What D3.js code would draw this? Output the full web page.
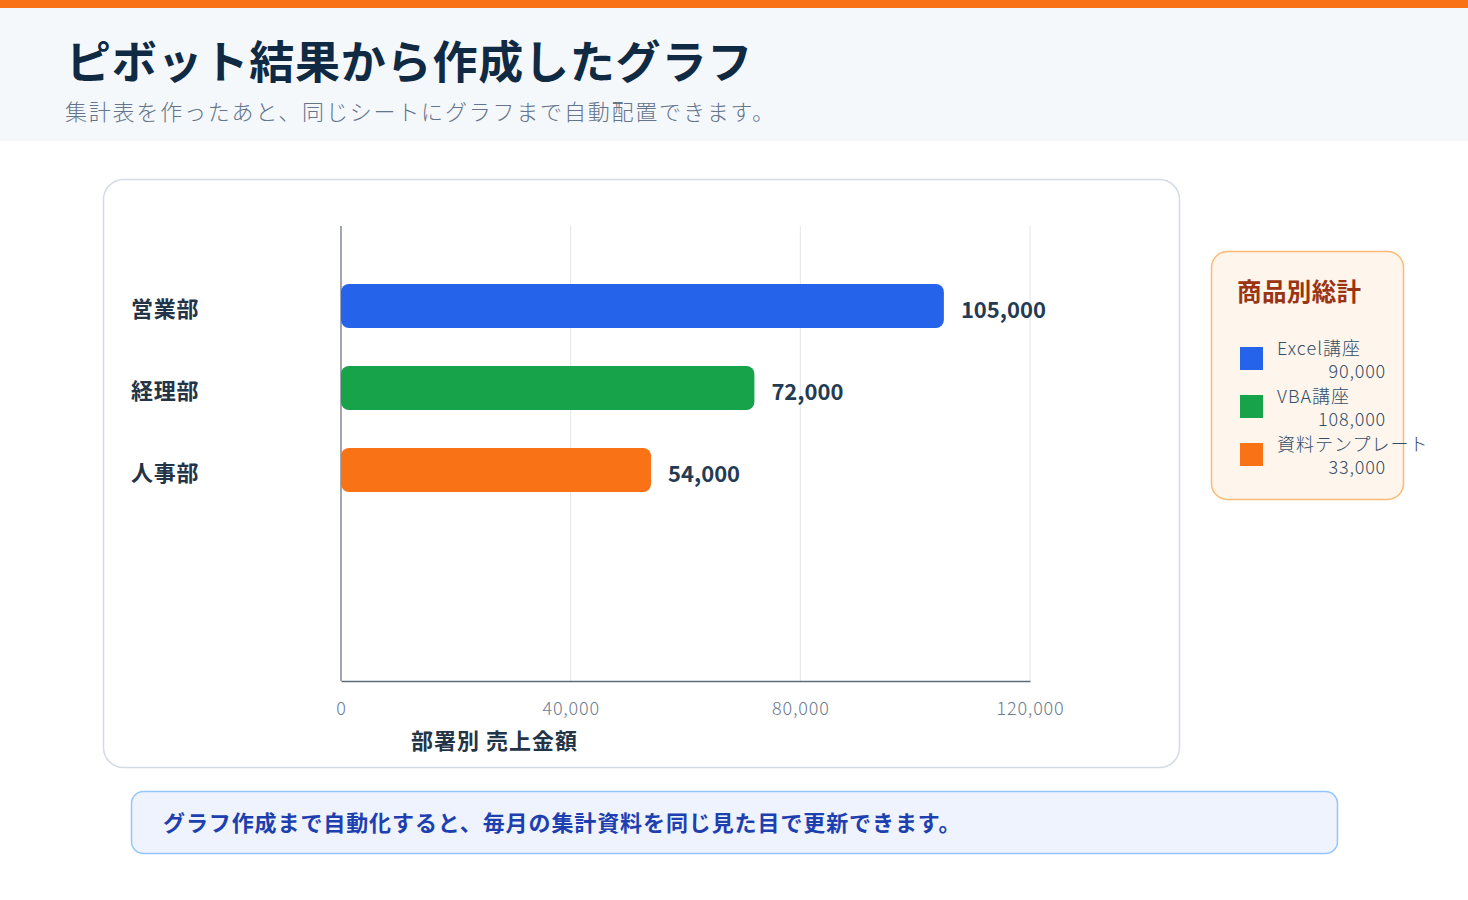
<!DOCTYPE html>
<html><head><meta charset="utf-8">
<script src="https://cdn.jsdelivr.net/npm/d3@7"></script>
<style>
html,body{margin:0;padding:0;background:#fff;}
svg{display:block;font-family:"Noto Sans CJK JP","Noto Sans",sans-serif;}
</style></head>
<body>
<script>
const titleText = "ピボット結果から作成したグラフ";
const subtitleText = "集計表を作ったあと、同じシートにグラフまで自動配置できます。";
const departments = ["営業部", "経理部", "人事部"];
const deptValues = [105000, 72000, 54000];
const barColors = ["#2563eb", "#16a34a", "#f97316"];
const xTicks = [0, 40000, 80000, 120000];
const xAxisTitle = "部署別 売上金額";
const legendTitle = "商品別総計";
const products = ["Excel講座", "VBA講座", "資料テンプレート"];
const productTotals = [90000, 108000, 33000];
const footerText = "グラフ作成まで自動化すると、毎月の集計資料を同じ見た目で更新できます。";

const W = 1468, H = 900;
const svg = d3.select("body").append("svg").attr("width", W).attr("height", H);
const fmt = d3.format(",");

// header
svg.append("rect").attr("x",0).attr("y",0).attr("width",W).attr("height",141).attr("fill","#f5f8fb");
svg.append("rect").attr("x",0).attr("y",0).attr("width",W).attr("height",8).attr("fill","#f97316");
svg.append("text").attr("x",66).attr("y",59).attr("dominant-baseline","central")
  .attr("font-size",45).attr("font-weight",700).attr("fill","#102a43").attr("letter-spacing",0.8).text(titleText);
svg.append("text").attr("x",65).attr("y",110).attr("dominant-baseline","central")
  .attr("font-size",22).attr("font-weight",300).attr("fill","#64748b").attr("letter-spacing",1.8).text(subtitleText);

// chart card
svg.append("rect").attr("x",103.5).attr("y",179.5).attr("width",1076).attr("height",588)
  .attr("rx",20).attr("fill","#fff").attr("stroke","#d5dbe5").attr("stroke-width",1.5);

const x = d3.scaleLinear().domain([0,120000]).range([341,1030]);
const pIn = 38/82;
const y = d3.scaleBand().domain(departments).range([265,511]).paddingInner(pIn).paddingOuter(pIn/2);

// grid
svg.append("g").selectAll("line").data(xTicks.slice(1)).join("line")
  .attr("x1",d=>x(d)).attr("x2",d=>x(d)).attr("y1",226).attr("y2",681)
  .attr("stroke","#e2e5ea").attr("stroke-width",1);

// axes
const xAxis = svg.append("g").attr("transform","translate(0,681)")
  .call(d3.axisBottom(x).tickValues(xTicks).tickFormat(fmt).tickSize(0).tickPadding(21));
xAxis.select(".domain").attr("stroke","#5f6b7a").attr("stroke-width",1.5);
xAxis.selectAll("text").attr("font-size",18).attr("font-weight",300).attr("fill","#6b7a8f")
  .attr("font-family","Noto Sans CJK JP").attr("letter-spacing",0.8);
svg.append("line").attr("x1",341).attr("x2",341).attr("y1",226).attr("y2",681)
  .attr("stroke","#5f6b7a").attr("stroke-width",1.2);

// bars
const data = departments.map((d,i)=>({d, v:deptValues[i], c:barColors[i]}));
svg.append("g").selectAll("rect").data(data).join("rect")
  .attr("x",x(0)).attr("y",d=>y(d.d)).attr("width",d=>x(d.v)-x(0)).attr("height",y.bandwidth())
  .attr("rx",8).attr("fill",d=>d.c);
svg.append("g").selectAll("text").data(data).join("text")
  .attr("x",d=>x(d.v)+17).attr("y",d=>y(d.d)+y.bandwidth()/2+2).attr("dominant-baseline","central")
  .attr("font-size",22).attr("font-weight",700).attr("fill","#243b53").text(d=>fmt(d.v));
svg.append("g").selectAll("text").data(data).join("text")
  .attr("x",131).attr("y",d=>y(d.d)+y.bandwidth()/2+1).attr("dominant-baseline","central")
  .attr("font-size",22).attr("font-weight",700).attr("fill","#243447").attr("letter-spacing",0.7).text(d=>d.d);

svg.append("text").attr("x",411).attr("y",739).attr("dominant-baseline","central")
  .attr("font-size",22).attr("font-weight",700).attr("fill","#243447").attr("letter-spacing",1).text(xAxisTitle);

// legend
svg.append("rect").attr("x",1211.5).attr("y",251.5).attr("width",192).attr("height",248)
  .attr("rx",16).attr("fill","#fef5ec").attr("stroke","#fdba74").attr("stroke-width",1.5);
svg.append("text").attr("x",1237).attr("y",290).attr("dominant-baseline","central")
  .attr("font-size",24.5).attr("font-weight",700).attr("fill","#9a3412").attr("letter-spacing",0.4).text(legendTitle);
const leg = svg.append("g").selectAll("g").data(products.map((p,i)=>({p,v:productTotals[i],c:barColors[i]}))).join("g")
  .attr("transform",(d,i)=>`translate(0,${i*48})`);
leg.append("rect").attr("x",1240).attr("y",347).attr("width",23).attr("height",23).attr("fill",d=>d.c);
leg.append("text").attr("x",1277).attr("y",347).attr("dominant-baseline","central")
  .attr("font-size",18).attr("font-weight",300).attr("fill","#334e68").attr("letter-spacing",1).text(d=>d.p);
leg.append("text").attr("x",1386).attr("y",370).attr("dominant-baseline","central").attr("text-anchor","end")
  .attr("font-size",18).attr("font-weight",300).attr("fill","#334e68").attr("letter-spacing",0.8).text(d=>fmt(d.v));

// footer
svg.append("rect").attr("x",131.5).attr("y",791.5).attr("width",1206).attr("height",62)
  .attr("rx",12).attr("fill","#eef3fe").attr("stroke","#93c5fd").attr("stroke-width",1.5);
svg.append("text").attr("x",163).attr("y",821).attr("dominant-baseline","central")
  .attr("font-size",22).attr("font-weight",700).attr("fill","#1e40af").attr("letter-spacing",0.9).text(footerText);
</script>
</body></html>
